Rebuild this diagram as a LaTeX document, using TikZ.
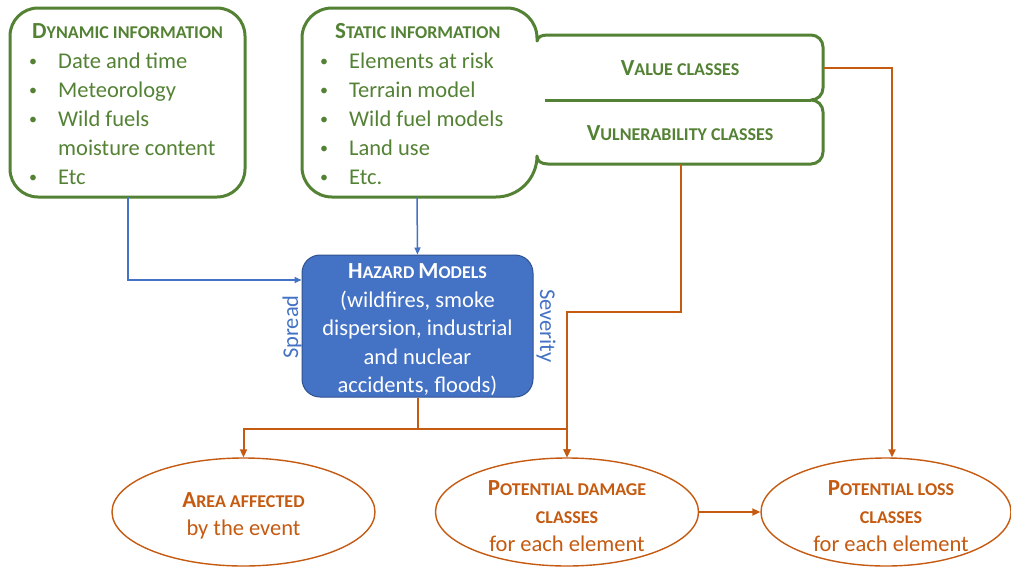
\documentclass[tikz,border=0pt]{standalone}
\usepackage{fontspec}
\setmainfont{Carlito}
\usetikzlibrary{arrows.meta,shapes.geometric,calc}
\definecolor{grn}{HTML}{548235}
\definecolor{blu}{HTML}{4472C4}
\definecolor{bluedge}{HTML}{2F528F}
\definecolor{org}{HTML}{C55A11}

% faked small capitals: full-size initial, reduced capitals after it
\newcommand\capsc[2]{{\bfseries\fontsize{23}{20}\selectfont #1}{\bfseries\fontsize{18}{20}\selectfont #2}}
\newcommand\bul{\llap{\makebox[29pt][l]{\raisebox{1.5pt}{\fontsize{16}{16}\selectfont •}}}}

\begin{document}
\begin{tikzpicture}[x=1pt,y=1pt,
  body/.style={font=\fontsize{22.5}{29}\selectfont, inner sep=0},
  listitem/.style={body, text=grn, anchor=base west},
  headtext/.style={body, text=grn},
  greenline/.style={draw=grn, line width=3pt, line join=round},
  hazbox/.style={draw=bluedge, line width=1pt, fill=blu, rounded corners=18pt,
    minimum width=231pt, minimum height=142pt, inner sep=0},
  ell/.style={ellipse, draw=org, line width=1.4pt, minimum height=108pt, inner sep=0,
    text=org, align=center, font=\fontsize{22.5}{28}\selectfont},
  ellt/.style={body, text=org, align=center, font=\fontsize{22.5}{28}\selectfont},
  barrow/.style={draw=blu, line width=1.5pt, -{Triangle[length=7pt,width=6pt]}},
  oarrow/.style={draw=org, line width=2pt, -{Triangle[length=8pt,width=7pt]}},
  oline/.style={draw=org, line width=2pt}]
\useasboundingbox[fill=white] (0,0) rectangle (1011,-568);

% dynamic information box
\draw[greenline, rounded corners=28pt] (10,-8) rectangle (245,-197);
\coordinate (dynb) at (128,-197);
\node[headtext, anchor=base west] (dynh) at (32,-38) {\capsc{D}{YNAMIC INFORMATION}};
\node[listitem] (dyn1) at (58,-68) {\bul Date and time};
\node[listitem] (dyn2) at (58,-97) {\bul Meteorology};
\node[listitem] (dyn3) at (58,-126) {\bul Wild fuels};
\node[listitem] (dyn4) at (58,-155) {moisture content};
\node[listitem] (dyn5) at (58,-184) {\bul Etc};

% static information box joined to the value / vulnerability boxes
\draw[greenline] (302,-38) arc[start angle=180,end angle=90,radius=30]
  -- (507,-8) arc[start angle=90,end angle=0,radius=30]
  -- (537,-41) .. controls (538,-37) and (541,-35) .. (548,-35)
  -- (811,-35) arc[start angle=90,end angle=0,radius=12]
  -- (823,-88) arc[start angle=0,end angle=-90,radius=12]
  arc[start angle=90,end angle=0,radius=12]
  -- (823,-152) arc[start angle=0,end angle=-90,radius=12]
  -- (548,-164) .. controls (541,-164) and (537,-161) .. (537,-156)
  arc[start angle=0,end angle=-90,radius=41]
  -- (332,-197) arc[start angle=270,end angle=180,radius=30] -- cycle;
\draw[greenline] (545,-100) -- (811,-100);
\coordinate (statb) at (417,-197);
\coordinate (vulb) at (681,-164);
\coordinate (valr) at (823,-68);

\node[headtext, anchor=base west] (stath) at (335,-38) {\capsc{S}{TATIC INFORMATION}};
\node[listitem] (st1) at (349,-68) {\bul Elements at risk};
\node[listitem] (st2) at (349,-97) {\bul Terrain model};
\node[listitem] (st3) at (349,-126) {\bul Wild fuel models};
\node[listitem] (st4) at (349,-155) {\bul Land use};
\node[listitem] (st5) at (349,-184) {\bul Etc.};

\node[headtext] (valt) at (680,-68) {\capsc{V}{ALUE CLASSES}};
\node[headtext] (vult) at (680,-133) {\capsc{V}{ULNERABILITY CLASSES}};

% hazard models
\node[hazbox] (haz) at (417.5,-326) {};
\node[body, text=white, align=center, font=\fontsize{22.5}{28.5}\selectfont] (hazt) at (417.5,-330)
  {\capsc{H}{AZARD }\capsc{M}{ODELS}\\(wildfires, smoke\\dispersion, industrial\\and nuclear\\accidents, floods)};
\node[body, text=blu, rotate=90] (spr) at (292,-327) {Spread};
\node[body, text=blu, rotate=-90] (sev) at (546,-326) {Severity};

% outcomes
\node[ell, minimum width=263pt] (area) at (243.5,-512) {};
\node[ell, minimum width=263pt] (dmg) at (567,-512) {};
\node[ell, minimum width=250pt] (loss) at (886,-512) {};
\node[ellt] (areat) at (243.5,-516) {\capsc{A}{REA AFFECTED}\\by the event};
\node[ellt] (dmgt) at (567,-516) {\capsc{P}{OTENTIAL DAMAGE}\\\capsc{}{CLASSES}\\for each element};
\node[ellt] (losst) at (891,-516) {\capsc{P}{OTENTIAL LOSS}\\\capsc{}{CLASSES}\\for each element};

% connectors
\draw[barrow] (dynb) |- ([yshift=46pt]haz.west);
\draw[barrow] (statb) -- (haz.north);
\coordinate (split) at ($(haz.south)+(0,-31)$);
\draw[oline] (haz.south) -- (split);
\draw[oarrow] (split) -| (area.north);
\draw[oarrow] (split) -| (dmg.north);
\coordinate (vbend) at ($(vulb)+(0,-148)$);
\draw[oarrow] (vulb) -- (vbend) -| (dmg.north);
\draw[oarrow] (valr) -| ([xshift=6pt]loss.north);
\draw[oarrow] (dmg.east) -- (loss.west);
\end{tikzpicture}
\end{document}
